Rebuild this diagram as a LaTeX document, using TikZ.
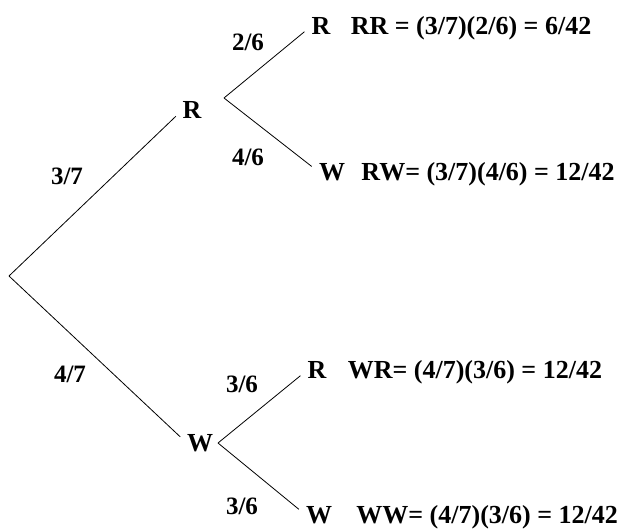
\documentclass[tikz,border=0pt]{standalone}
\usepackage{fontspec}
\setmainfont{Liberation Serif}
\usetikzlibrary{positioning}

\begin{document}
\begin{tikzpicture}[
    x=1pt, y=-1pt,
    node distance=20pt,
    pick/.style={inner sep=0pt, font=\fontsize{26}{31}\selectfont\bfseries},
    prob/.style={inner sep=0pt, font=\fontsize{25}{30}\selectfont\bfseries},
    result/.style={inner sep=0pt, font=\fontsize{26}{31}\selectfont\bfseries},
    branch/.style={line width=0.8pt, shorten >=9pt}
]
    \useasboundingbox (0,0) rectangle (626,529);

    \coordinate (root) at (9,276);
    \node[pick] (r) at (192,110) {R};
    \node[pick] (w) at (200,443) {W};
    \coordinate (rfork) at (224,98);
    \coordinate (wfork) at (218,443);

    \node[pick] (rr) at (321,26) {R};
    \node[pick] (rw) at (332,172) {W};
    \node[pick] (wr) at (317,370) {R};
    \node[pick] (ww) at (319,515) {W};

    \node[result, base right=20pt of rr] (rrres) {RR = (3/7)(2/6) = 6/42};
    \node[result, base right=16pt of rw] (rwres) {RW= (3/7)(4/6) = 12/42};
    \node[result, base right=21pt of wr] (wrres) {WR= (4/7)(3/6) = 12/42};
    \node[result, base right=24pt of ww] (wwres) {WW= (4/7)(3/6) = 12/42};

    \node[prob] (p37) at (67,176) {3/7};
    \node[prob] (p47) at (70,374) {4/7};
    \node[prob] (p26) at (248,42) {2/6};
    \node[prob] (p46) at (248,157) {4/6};
    \node[prob] (p36a) at (242,384) {3/6};
    \node[prob] (p36b) at (242,506) {3/6};

    \draw[branch] (root) -- (r.west);
    \draw[branch] (root) -- (w.west);
    \draw[branch] (rfork) -- (rr.west);
    \draw[branch] (rfork) -- (rw.west);
    \draw[branch] (wfork) -- (wr.west);
    \draw[branch] (wfork) -- (ww.west);
\end{tikzpicture}
\end{document}
